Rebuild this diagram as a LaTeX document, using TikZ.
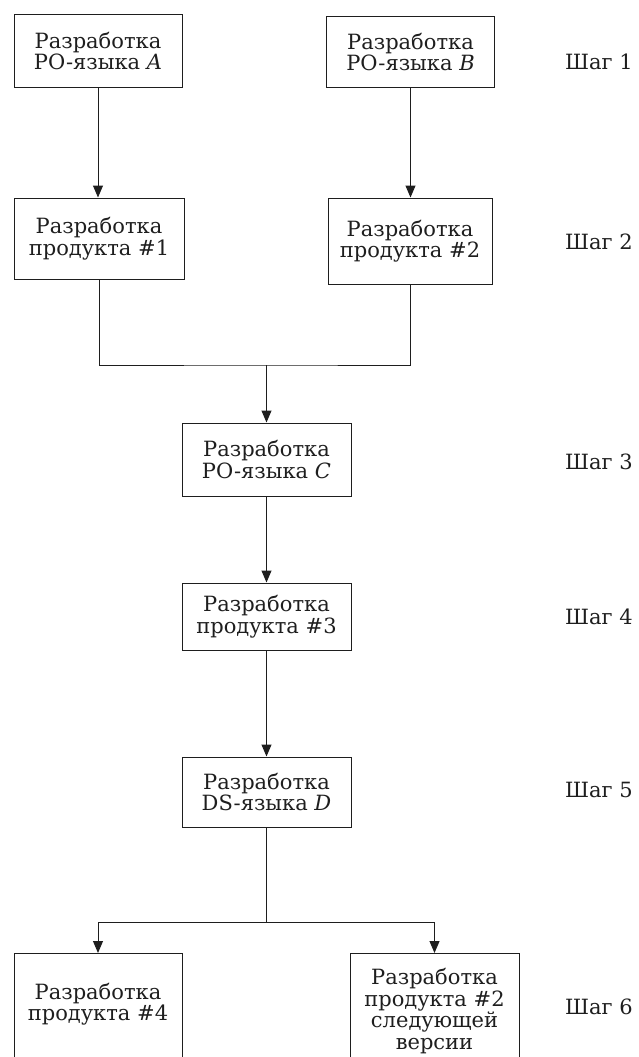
\documentclass[tikz,border=0pt]{standalone}
\usepackage{fontspec}
\setmainfont{DejaVu Serif}
\usetikzlibrary{arrows.meta}
\definecolor{ink}{HTML}{1E1E1E}
\tikzset{
  box/.style={draw=ink, line width=1pt, minimum width=#1, inner sep=0pt, align=center, text=ink},
  txt/.style={align=center, inner sep=0pt, text=ink},
  steplbl/.style={anchor=west, inner sep=0pt, text=ink},
  conn/.style={draw=ink, line width=1pt},
  arr/.style={conn, -{Triangle[length=12pt,width=10pt]}}
}
\begin{document}
\begin{tikzpicture}[x=1pt,y=-1pt,font=\fontsize{21}{21.5}\selectfont]
\useasboundingbox (0,0) rectangle (638,1057);
\clip (0,0) rectangle (638,1057);
% boxes
\node[box=168pt, minimum height=72pt] (A) at (98,51) {Разработка\\PO-языка \textit{A}};
\node[box=168pt, minimum height=70pt] (B) at (410.5,52) {Разработка\\PO-языка \textit{B}};
\node[box=170pt, minimum height=81pt] (P1) at (99,238.5) {Разработка\\продукта \#1};
\node[box=164pt, minimum height=86pt] (P2) at (410,241) {Разработка\\продукта \#2};
\node[box=169pt, minimum height=73pt] (C) at (266.5,459.5) {Разработка\\PO-языка \textit{C}};
\node[box=169pt, minimum height=67pt] (P3) at (266.5,616.5) {Разработка\\продукта \#3};
\node[box=169pt, minimum height=70pt] (D) at (266.5,792) {Разработка\\DS-языка \textit{D}};
\node[box=168pt, minimum height=140pt, anchor=north] (P4) at (98,953) {};
\node[box=169pt, minimum height=140pt, anchor=north] (P5) at (434.5,953) {};
\node[txt] (P4t) at (98,1004) {Разработка\\продукта \#4};
\node[txt] (P5t) at (434.5,1011) {Разработка\\продукта \#2\\следующей\\версии};
% step labels
\node[steplbl] (S1) at (565,62) {Шаг 1};
\node[steplbl] (S2) at (565,242) {Шаг 2};
\node[steplbl] (S3) at (565,462) {Шаг 3};
\node[steplbl] (S4) at (565,617) {Шаг 4};
\node[steplbl] (S5) at (565,790) {Шаг 5};
\node[steplbl] (S6) at (565,1007) {Шаг 6};
% connectors
\coordinate (J) at (266.5,365);
\coordinate (K) at (266.5,922);
\draw[arr] (A.south) -- (A.south |- P1.north);
\draw[arr] (B.south) -- (B.south |- P2.north);
\draw[conn] (P1.south) |- (J) -| (P2.south);
\draw[arr] (J) -- (C.north);
\draw[arr] (C.south) -- (P3.north);
\draw[arr] (P3.south) -- (D.north);
\draw[conn] (D.south) -- (K);
\draw[arr] (K) -| (P4.north);
\draw[arr] (K) -| (P5.north);
\end{tikzpicture}
\end{document}
